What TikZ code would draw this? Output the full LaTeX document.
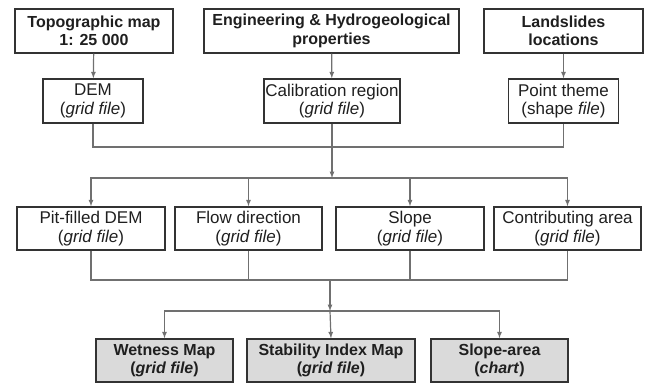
\documentclass[tikz,border=0pt]{standalone}
\usepackage{fontspec}
\setmainfont{Liberation Sans}
\usepackage{xcolor}
\usetikzlibrary{arrows,positioning,calc}
\definecolor{linegray}{HTML}{707070}
\definecolor{boxgray}{HTML}{333333}
\definecolor{outfill}{HTML}{DADADA}

\begin{document}
\begin{tikzpicture}[x = 1pt, y = -1pt,
  box/.style = {draw = boxgray, line width = 1.4pt, align = center, inner sep = 0pt,
    minimum height = 44pt, text = black!88, font = \fontsize{17}{18.5}\selectfont},
  srcbox/.style = {box, font = \fontsize{16}{18.5}\selectfont\bfseries},
  outbox/.style = {box, fill = outfill, font = \fontsize{16}{18.5}\selectfont\bfseries},
  link/.style = {draw = linegray, line width = 1.2pt},
  arr/.style = {link, -latex}]
  \useasboundingbox (0,0) rectangle (646,384);
  % sources
  \node[srcbox, minimum width = 158pt] (topo) at (94,31) {Topographic map\\1: 25 000};
  \node[srcbox, minimum width = 255pt] (eng) at (331.5,31) {Engineering \& Hydrogeological\\properties};
  \node[srcbox, minimum width = 159pt] (land) at (563.5,31) {Landslides\\locations};
  % input themes
  \node[box, minimum width = 100pt] (dem) at (93,101) {DEM\\(\textit{grid file})};
  \node[box, minimum width = 136pt] (calib) at (332,101) {Calibration region\\(\textit{grid file})};
  \node[box, minimum width = 110pt] (point) at (563.5,101) {Point theme\\(shape \textit{file})};
  % derived grids
  \node[box, minimum width = 148pt, minimum height = 43pt] (pit) at (91,228.5) {Pit-filled DEM\\(\textit{grid file})};
  \node[box, minimum width = 147pt, minimum height = 43pt] (flow) at (248.5,228.5) {Flow direction\\(\textit{grid file})};
  \node[box, minimum width = 148pt, minimum height = 43pt] (slope) at (410,228.5) {Slope\\(\textit{grid file})};
  \node[box, minimum width = 147pt, minimum height = 43pt] (contrib) at (567.5,228.5) {Contributing area\\(\textit{grid file})};
  % outputs
  \node[outbox, minimum width = 137pt, minimum height = 43pt] (wet) at (164.5,360.5) {Wetness Map\\(\textit{grid file})};
  \node[outbox, minimum width = 168pt, minimum height = 43pt] (stab) at (331,360.5) {Stability Index Map\\(\textit{grid file})};
  \node[outbox, minimum width = 137pt, minimum height = 43pt] (sarea) at (499.5,360.5) {Slope-area\\(\textit{chart})};
  % junctions
  \coordinate (j1) at (332,147);
  \coordinate (s1) at (332,178);
  \coordinate (j2) at (330,280);
  \coordinate (s2) at (330,311);
  % connectors
  \draw[arr] (topo) -- (dem);
  \draw[arr] (eng) -- (calib);
  \draw[arr] (land) -- (point);
  \draw[link] (dem.south) |- (j1) -| (point.south);
  \draw[link] (calib) -- (j1);
  \draw[arr] (j1) -- (s1);
  \draw[arr] (s1) -| (pit.north);
  \draw[arr] (s1) -| (flow.north);
  \draw[arr] (s1) -| (slope.north);
  \draw[arr] (s1) -| (contrib.north);
  \draw[link] (pit.south) |- (j2) -| (contrib.south);
  \draw[link] (flow.south) -- (flow.south |- j2);
  \draw[link] (slope.south) -- (slope.south |- j2);
  \draw[arr] (j2) -- (s2);
  \draw[arr] (s2) -| (wet.north);
  \draw[arr] (s2) -- (stab.north);
  \draw[arr] (s2) -| (sarea.north);
\end{tikzpicture}
\end{document}
